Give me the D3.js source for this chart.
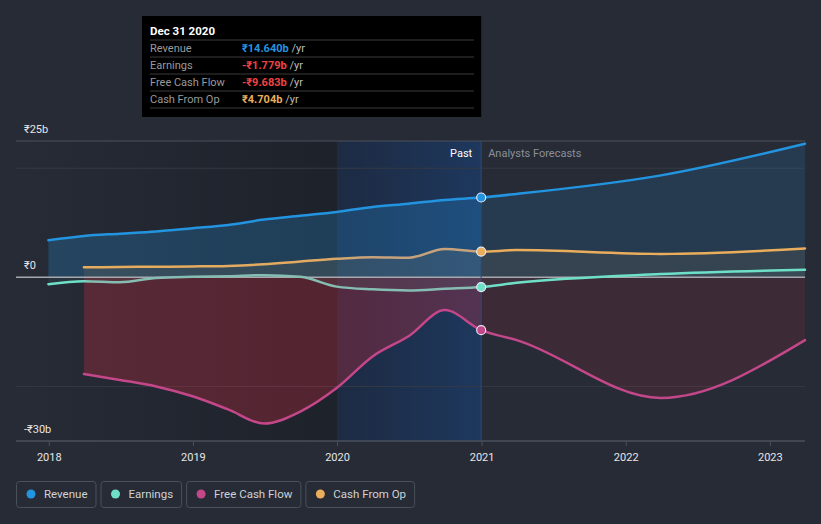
<!DOCTYPE html>
<html><head><meta charset="utf-8">
<script src="https://cdn.jsdelivr.net/npm/d3@7"></script>
<style>
html,body{margin:0;padding:0;background:#262b36;}
svg{display:block;font-family:Roboto,"Noto Sans",sans-serif;}
</style></head>
<body><svg id="c" width="821" height="524"></svg>
<script>
// ---- data ----
const pastDates = ["2017-12-31","2018-03-31","2018-06-30","2018-09-30","2018-12-31","2019-03-31","2019-06-30","2019-09-30","2019-12-31","2020-03-31","2020-06-30","2020-09-30","2020-12-31"];
const fcDates = ["2020-12-31","2021-03-31","2022-03-31","2023-03-31"];
const revenuePast = [6.8,7.6,8.0,8.4,9.0,9.6,10.6,11.3,12.0,12.9,13.5,14.2,14.64];
const revenueFc = [14.64,15.3,18.7,24.5];
const earningsPast = [-1.25,-0.7,-0.9,-0.1,0.1,0.2,0.4,0.1,-1.7,-2.2,-2.4,-2.1,-1.779];
const earningsFc = [-1.779,-1.0,0.6,1.4];
const fcfPast = [null,-17.7,-18.8,-20.0,-21.8,-24.2,-26.8,-24.6,-20.3,-14.5,-10.8,-6.0,-9.683];
const fcfFc = [-9.683,-11.5,-22.1,-11.5];
const cfoPast = [null,1.85,1.9,1.95,2.0,2.1,2.4,2.9,3.4,3.7,3.6,5.2,4.704];
const cfoFc = [4.704,5.0,4.3,5.3];
const yTicks = [25,0,-30];
const yTickLabels = ["₹25b","₹0","-₹30b"];
const gridVals = [20,-20];
const xTickYears = [2018,2019,2020,2021,2022,2023];
const seriesNames = ["Revenue","Earnings","Free Cash Flow","Cash From Op"];
const seriesColors = ["#2394e0","#6fe0c8","#c4478a","#e9ad5c"];
const tipTitle = "Dec 31 2020";
const tipValues = ["₹14.640b","-₹1.779b","-₹9.683b","₹4.704b"];
const tipValueColors = ["#2394e0","#ef4444","#ef4444","#e9ad5c"];

// ---- setup ----
const svg = d3.select("#c");
const L=16,R=805,T=141,B=441;
const x = d3.scaleTime().domain([new Date("2017-10-10"),new Date("2023-03-31")]).range([L,R]);
const y = d3.scaleLinear().domain([-30,25]).range([B,T]);
const P = d=>new Date(d);
function build(past, fc){
  const pts=[];
  past.forEach((v,i)=>{ if(v!=null) pts.push({d:P(pastDates[i]),v}); });
  fc.forEach((v,i)=>{ if(i>0) pts.push({d:P(fcDates[i]),v}); });
  return pts;
}
const series = [build(revenuePast,revenueFc),build(earningsPast,earningsFc),build(fcfPast,fcfFc),build(cfoPast,cfoFc)];
const xNow = x(P("2020-12-31"));
const x2020 = x(P("2020-01-01"));

const defs = svg.append("defs");
const gDark = defs.append("linearGradient").attr("id","gDark").attr("x1","0").attr("x2","1");
gDark.append("stop").attr("offset","0").attr("stop-color","#000").attr("stop-opacity",0);
gDark.append("stop").attr("offset","1").attr("stop-color","#000").attr("stop-opacity",0.22);
const gBlue = defs.append("linearGradient").attr("id","gBlue").attr("x1","0").attr("x2","1");
gBlue.append("stop").attr("offset","0").attr("stop-color","#0d2a5a").attr("stop-opacity",0.35);
gBlue.append("stop").attr("offset","1").attr("stop-color","#124a95").attr("stop-opacity",0.42);

svg.append("rect").attr("x",L).attr("y",T).attr("width",x2020-L).attr("height",B-T).attr("fill","url(#gDark)");
svg.append("rect").attr("x",x2020).attr("y",T).attr("width",xNow-x2020).attr("height",B-T).attr("fill","url(#gBlue)");

svg.append("line").attr("x1",L).attr("x2",R).attr("y1",y(25)).attr("y2",y(25)).attr("stroke","#4a505c").attr("stroke-width",1);
gridVals.forEach(v=>svg.append("line").attr("x1",L).attr("x2",R).attr("y1",y(v)).attr("y2",y(v)).attr("stroke","#343944").attr("stroke-width",1));

function areaGrad(id,color,pa,fa){
  const g=defs.append("linearGradient").attr("id",id).attr("gradientUnits","userSpaceOnUse").attr("x1",L).attr("x2",R).attr("y1",0).attr("y2",0);
  const f=(xNow-L)/(R-L);
  g.append("stop").attr("offset",0).attr("stop-color",color).attr("stop-opacity",pa);
  g.append("stop").attr("offset",f).attr("stop-color",color).attr("stop-opacity",pa);
  g.append("stop").attr("offset",f).attr("stop-color",color).attr("stop-opacity",fa);
  g.append("stop").attr("offset",1).attr("stop-color",color).attr("stop-opacity",fa);
}
areaGrad("aRev","#2394e0",0.25,0.15);
areaGrad("aEarn","#6fe0c8",0.06,0.04);
areaGrad("aFcf","#c52a3c",0.32,0.14);
areaGrad("aCfo","#e9ad5c",0.1,0.08);
const areaIds=["aRev","aEarn","aFcf","aCfo"];

const area = d3.area().x(d=>x(d.d)).y0(y(0)).y1(d=>y(d.v)).curve(d3.curveMonotoneX);
const line = d3.line().x(d=>x(d.d)).y(d=>y(d.v)).curve(d3.curveMonotoneX);
[0,2,3,1].forEach(i=>{
  svg.append("path").attr("d",area(series[i])).attr("fill",`url(#${areaIds[i]})`);
});

svg.append("line").attr("x1",L).attr("x2",R).attr("y1",y(0)).attr("y2",y(0)).attr("stroke","#a7a8ad").attr("stroke-width",1.5);

function strokeGrad(id,stops){
  const g=defs.append("linearGradient").attr("id",id).attr("gradientUnits","userSpaceOnUse").attr("x1",L).attr("x2",R).attr("y1",0).attr("y2",0);
  stops.forEach(s=>g.append("stop").attr("offset",(s[0]-L)/(R-L)).attr("stop-color",s[1]));
}
const xFcfStart = x(P("2018-03-31"));
strokeGrad("sEarn",[[L,"#6fe0c8"],[xFcfStart-4,"#6fe0c8"],[xFcfStart+8,"#86bdb2"],[xNow-1,"#86bdb2"],[xNow,"#6fe0c8"],[R,"#6fe0c8"]]);
strokeGrad("sCfo",[[L,"#e9ad5c"],[x2020-20,"#e2aa62"],[x2020+30,"#c6a27c"],[xNow-1,"#c6a27c"],[xNow,"#e9ad5c"],[R,"#e9ad5c"]]);
const strokes=["#2394e0","url(#sEarn)","#c4478a","url(#sCfo)"];
[3,1,2,0].forEach(i=>{
  svg.append("path").attr("d",line(series[i])).attr("fill","none").attr("stroke",strokes[i]).attr("stroke-width",2.5).attr("stroke-linecap","round");
});

svg.append("line").attr("x1",xNow).attr("x2",xNow).attr("y1",T).attr("y2",B).attr("stroke","#2c4a78").attr("stroke-width",1);

series.forEach((s,i)=>{
  const p=s.find(d=>+d.d===+P("2020-12-31"));
  svg.append("circle").attr("cx",x(p.d)).attr("cy",y(p.v)).attr("r",4.5).attr("fill",seriesColors[i]).attr("stroke","#e8e8f0").attr("stroke-width",1.2);
});

svg.append("text").attr("x",xNow-9).attr("y",157).attr("text-anchor","end").attr("fill","#ffffff").attr("font-size",11).text("Past");
svg.append("text").attr("x",xNow+7).attr("y",157).attr("fill","#8b8f98").attr("font-size",11).text("Analysts Forecasts");

yTicks.forEach((v,i)=>svg.append("text").attr("x",24).attr("y",y(v)-8).attr("fill","#e6e6e6").attr("font-size",11).text(yTickLabels[i]));

svg.append("line").attr("x1",L).attr("x2",R).attr("y1",B).attr("y2",B).attr("stroke","#4a505c").attr("stroke-width",1.5);
const xAxis = d3.axisBottom(x).tickValues(xTickYears.map(yy=>new Date(yy,0,1))).tickFormat(d3.timeFormat("%Y")).tickSize(5).tickPadding(7);
const ax = svg.append("g").attr("transform",`translate(0,${B})`).call(xAxis);
ax.select(".domain").remove();
ax.selectAll("line").attr("stroke","#4a505c");
ax.selectAll("text").attr("fill","#e6e6e6").attr("font-size",11).attr("font-family","Roboto,sans-serif");

const tip = svg.append("g");
tip.append("rect").attr("x",142).attr("y",16).attr("width",xNow-142).attr("height",101).attr("fill","#000");
tip.append("text").attr("x",150).attr("y",35).attr("fill","#fff").attr("font-size",11.5).attr("font-weight","bold").text(tipTitle);
[40,57,74,91,108].forEach(yy=>tip.append("line").attr("x1",150).attr("x2",474).attr("y1",yy).attr("y2",yy).attr("stroke","#3a3a3a").attr("stroke-width",1));
seriesNames.forEach((n,i)=>{
  const by=52+i*17;
  tip.append("text").attr("x",150).attr("y",by).attr("fill","#9a9a9a").attr("font-size",11).text(n);
  const t=tip.append("text").attr("x",242).attr("y",by).attr("font-size",11);
  t.append("tspan").attr("fill",tipValueColors[i]).attr("font-weight","bold").text(tipValues[i]);
  t.append("tspan").attr("fill","#bdbdbd").text(" /yr");
});

let lx=16;
seriesNames.forEach((n,i)=>{
  const g=svg.append("g");
  const txt=g.append("text").attr("x",lx+28).attr("y",498).attr("fill","#d0d2d6").attr("font-size",11.5).text(n);
  const w=txt.node().getComputedTextLength();
  const bw=28+w+8;
  g.insert("rect","text").attr("x",lx+0.5).attr("y",481.5).attr("width",bw).attr("height",26).attr("rx",3).attr("fill","none").attr("stroke","#4a505c");
  g.append("circle").attr("cx",lx+15).attr("cy",494).attr("r",4.5).attr("fill",seriesColors[i]);
  lx+=bw+5;
});
</script></body></html>
